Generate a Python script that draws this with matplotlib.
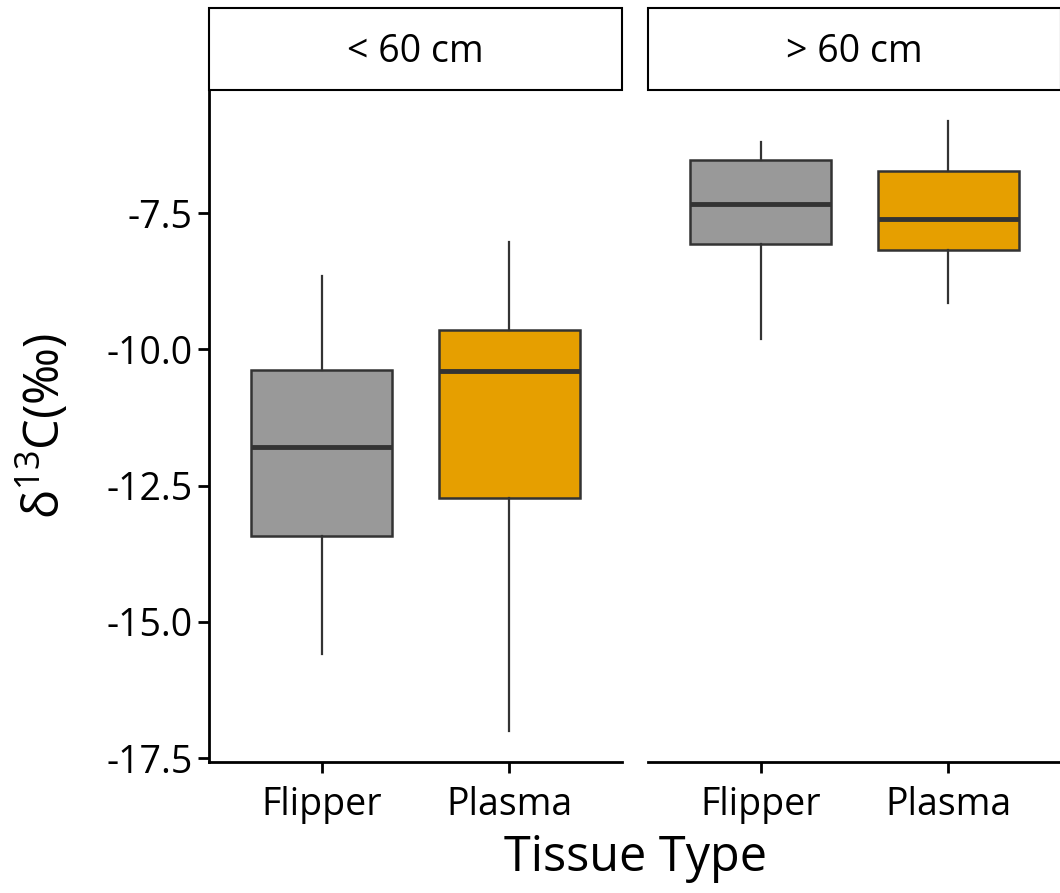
import matplotlib
matplotlib.use('Agg')
from matplotlib import pyplot as plt
from matplotlib.patches import Rectangle

plt.rcParams['font.family'] = ['Open Sans', 'DejaVu Sans']
plt.rcParams['mathtext.fontset'] = 'custom'
plt.rcParams['mathtext.rm'] = 'Open Sans'
plt.rcParams['mathtext.it'] = 'Open Sans:italic'

# box summary per size class: whisker low, q1, median, q3, whisker high
tissues = ['Flipper', 'Plasma']
panels = ['< 60 cm', '> 60 cm']
whislo = [[-15.58, -17.01], [-9.81, -9.15]]
q1 = [[-13.43, -12.72], [-8.07, -8.18]]
med = [[-11.79, -10.39], [-7.34, -7.61]]
q3 = [[-10.375, -9.64], [-6.53, -6.73]]
whishi = [[-8.65, -8.03], [-6.20, -5.80]]
fills = ['#999999', '#E69F00']
yticks = [-7.5, -10.0, -12.5, -15.0, -17.5]

W, H = 1060, 893
fig = plt.figure(figsize=(W / 100, H / 100), dpi=100)

edge = '#333333'
lefts = [209, 648]
pw = 413
top, bottom = 90, 762

for p in range(2):
    ax = fig.add_axes([lefts[p] / W, 1 - bottom / H, pw / W, (bottom - top) / H])
    stats = []
    for t in range(2):
        stats.append(dict(whislo=whislo[p][t], q1=q1[p][t], med=med[p][t],
                          q3=q3[p][t], whishi=whishi[p][t], fliers=[]))
    bp = ax.bxp(stats, positions=[1, 2], widths=0.75, patch_artist=True,
                showcaps=False,
                boxprops=dict(edgecolor=edge, linewidth=1.8),
                whiskerprops=dict(color=edge, linewidth=1.6),
                medianprops=dict(color=edge, linewidth=3.5))
    for b, c in zip(bp['boxes'], fills):
        b.set_facecolor(c)
    ax.set_xlim(0.4, 2.6)
    ax.set_ylim(-17.57, -5.24)
    ax.set_xticks([1, 2])
    ax.set_xticklabels(tissues)
    for s in ['top', 'right']:
        ax.spines[s].set_visible(False)
    ax.spines['bottom'].set_linewidth(2)
    ax.spines['left'].set_linewidth(2)
    ax.tick_params(axis='both', length=8, width=2, labelsize=27, pad=4, colors='black')
    ax.tick_params(axis='x', pad=9)
    if p == 0:
        ax.set_yticks(yticks)
        ax.set_yticklabels(['%.1f' % v for v in yticks])
    else:
        ax.spines['left'].set_visible(False)
        ax.set_yticks([])

    # facet strip above the panel
    sx = lefts[p] / W
    sy = 1 - top / H
    fig.patches.append(Rectangle((sx, sy), pw / W, (top - 8) / H, transform=fig.transFigure,
                                 facecolor='white', edgecolor='black', linewidth=1.5))
    fig.text(sx + pw / W / 2, 1 - 52 / H, panels[p], ha='center', va='center', fontsize=27)

fig.text(44 / W, 1 - 426 / H, r'$\mathrm{δ^{13}C(‰)}$', rotation=90, ha='center', va='center',
         fontsize=35)
fig.text(635 / W, 1 - 858 / H, 'Tissue Type', ha='center', va='center', fontsize=35)

fig.savefig('out.png', dpi=100)
